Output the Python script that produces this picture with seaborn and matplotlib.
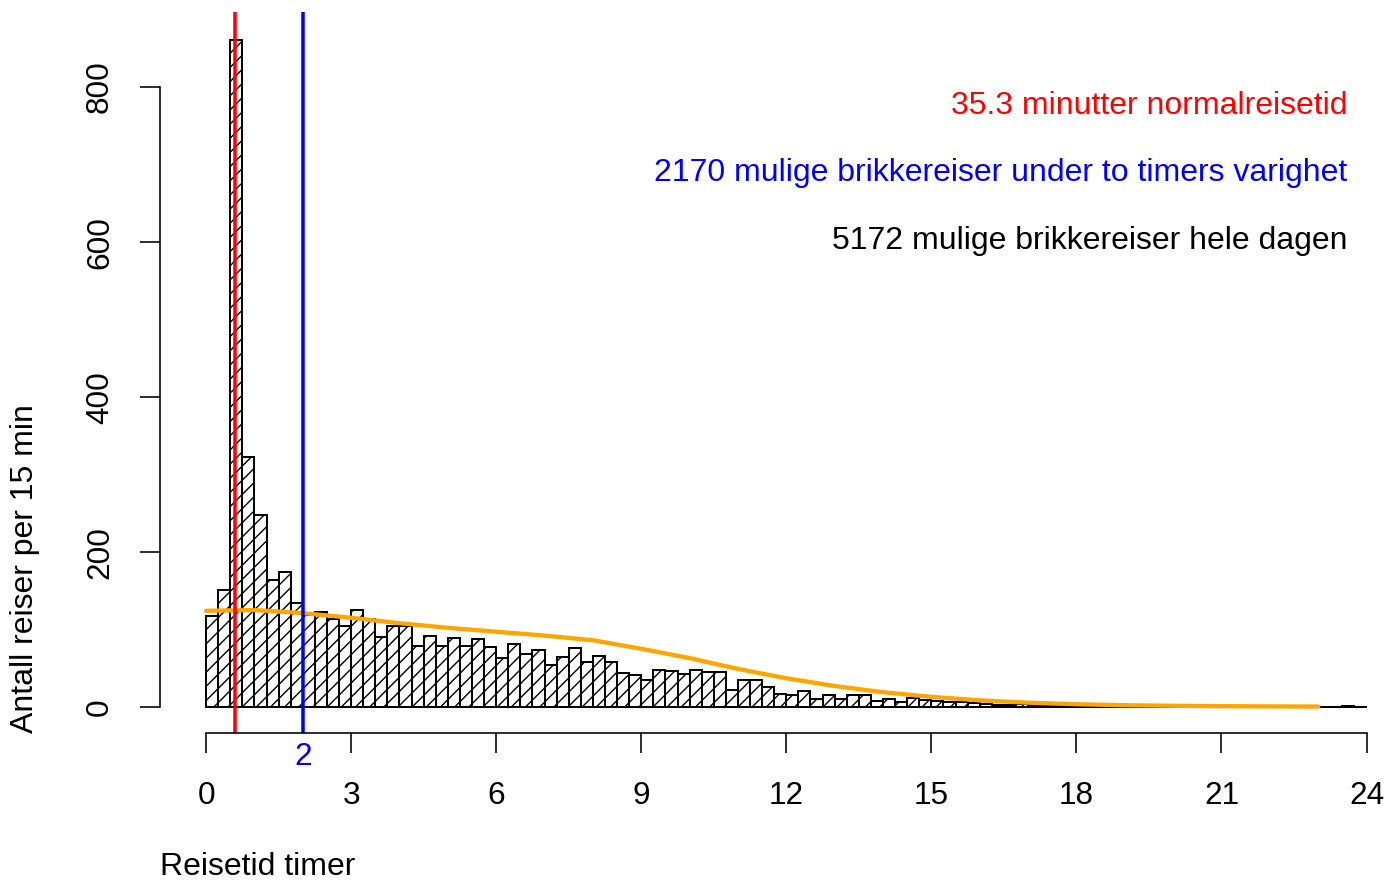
import numpy as np
import pandas as pd
import matplotlib
matplotlib.use("Agg")
import matplotlib.pyplot as plt
import seaborn as sns

# antall reiser per 15 minutter (start på intervallet i timer)
bin_start = np.arange(0, 24, 0.25)
counts = [
    117, 151, 860, 322, 248, 164, 174, 134,      # 0-2
    119, 122, 114, 105, 125, 114, 90, 104,       # 2-4
    104, 79, 92, 79, 89, 78, 87, 77,             # 4-6
    63, 81, 68, 74, 54, 64, 76, 58,              # 6-8
    66, 58, 44, 41, 35, 47, 46, 43,              # 8-10
    48, 45, 45, 22, 35, 35, 26, 17,              # 10-12
    15, 21, 10, 15, 10, 15, 16, 8,               # 12-14
    10, 7, 11, 9, 8, 7, 7, 5,                    # 14-16
    4, 3, 2, 4, 3, 2, 2, 2,                      # 16-18
    1, 2, 1, 1, 1, 0, 1, 0,                      # 18-20
    1, 0, 0, 1, 0, 0, 1, 0,                      # 20-22
    0, 0, 1, 0, 0, 0, 1, 0,                      # 22-24
]

# glattet kurve
curve_hours = [0, 1, 2, 3, 4, 5, 6, 7, 8, 9, 10, 11, 12, 13, 14, 15, 16,
               17, 18, 19, 20, 21, 22, 23]
curve_values = [124, 125, 121, 115, 108, 102, 97, 92, 86, 75, 63, 49, 37,
                27, 19, 13, 8.5, 5.5, 3.5, 2.2, 1.5, 1.0, 0.7, 0.5]

normal_minutes = 35.3
limit_hours = 2
x_ticks = [0, 3, 6, 9, 12, 15, 18, 21, 24]
y_ticks = [0, 200, 400, 600, 800]

info_lines = [
    ("35.3 minutter normalreisetid", "red"),
    ("2170 mulige brikkereiser under to timers varighet", "blue"),
    ("5172 mulige brikkereiser hele dagen", "black"),
]

DPI = 85
W, H = 1387, 882


def px(v):
    return v * 72 / DPI


sns.set_style("white")
plt.rcParams["font.family"] = ["Liberation Sans", "DejaVu Sans"]
plt.rcParams["hatch.linewidth"] = px(1.4)
plt.rcParams["text.color"] = "black"

fig = plt.figure(figsize=((W + 0.5) / DPI, (H + 0.5) / DPI), dpi=DPI)
ax = fig.add_axes([160 / W, (H - 733) / H, (W - 160) / W, (733 - 12) / H])

df = pd.DataFrame({"midt": bin_start + 0.125, "antall": counts})
edges = [float(e) for e in np.append(bin_start, 24)]
sns.histplot(data=df, x="midt", weights="antall", bins=edges,
             color="white", edgecolor="black", linewidth=px(2),
             hatch="//", alpha=1, ax=ax)

sns.lineplot(x=curve_hours, y=curve_values, color="orange",
             linewidth=px(4.3), ax=ax)

ax.axvline(normal_minutes / 60, color="red", linewidth=px(3.5))
ax.axvline(limit_hours, color="blue", linewidth=px(3.5))

ax.set_xlim(-0.952, 24.434)
ax.set_ylim(-33.5, 896.8)
ax.set_xlabel("")
ax.set_ylabel("")

for s in ["top", "right"]:
    ax.spines[s].set_visible(False)
ax.spines["left"].set_bounds(0, 800)
ax.spines["bottom"].set_bounds(0, 24)
for s in ["left", "bottom"]:
    ax.spines[s].set_linewidth(px(1.6))
    ax.spines[s].set_color("black")

ax.set_xticks(x_ticks)
ax.set_xticklabels([str(t) for t in x_ticks])
ax.set_yticks(y_ticks)
ax.set_yticklabels([str(t) for t in y_ticks])
ax.tick_params(axis="both", direction="out", length=px(20), width=px(1.6),
               labelsize=px(31.5), colors="black", bottom=True, left=True)
ax.tick_params(axis="x", pad=px(43))
ax.tick_params(axis="y", pad=px(40))
for lbl in ax.get_xticklabels():
    lbl.set_va("center")
for lbl in ax.get_yticklabels():
    lbl.set_rotation(90)
    lbl.set_ha("center")
    lbl.set_va("center")

# blå markering av to timer under aksen
ax.text(limit_hours, (733 - 757) / 721, str(limit_hours), color="blue",
        fontsize=px(31.5), ha="center", va="center",
        transform=ax.get_xaxis_transform())

for (txt, col), ypix in zip(info_lines, [106, 173, 241]):
    fig.text(1347 / W, 1 - ypix / H, txt, color=col, fontsize=px(32),
             ha="right", va="center")

fig.text(160 / W, 1 - 867 / H, "Reisetid timer", fontsize=px(32),
         ha="left", va="center", color="black")
fig.text(25 / W, 1 - 733 / H, "Antall reiser per 15 min", fontsize=px(32),
         rotation=90, ha="center", va="bottom", color="black")

fig.savefig("out.png", dpi=DPI, facecolor="white")
